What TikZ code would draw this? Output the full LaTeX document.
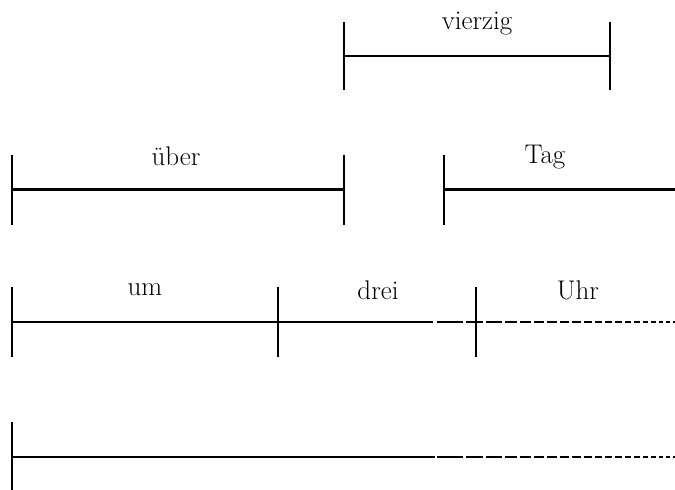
\documentclass[tikz,border=0pt]{standalone}
\begin{document}
\begin{tikzpicture}[x=1pt,y=-1pt,
  tickln/.style={line width=1.3pt},
  segthin/.style={line width=1.3pt},
  segthick/.style={line width=3pt},
  fadeln/.style={line width=1.3pt,dash pattern=on 26pt off 3pt on 17pt off 3pt on 16pt off 3pt on 12pt off 3pt on 11pt off 3pt on 10pt off 3pt on 10pt off 3pt on 9pt off 3pt on 9pt off 3pt on 8pt off 3pt on 7pt off 3pt on 7pt off 3pt on 7pt off 3pt on 6pt off 3pt on 6pt off 3pt on 5pt off 3pt on 5pt off 3pt on 4pt off 3pt on 4pt off 3pt},
  lbl/.style={anchor=base,inner sep=0pt,font=\fontsize{27}{32}\selectfont}]
\useasboundingbox (0,0) rectangle (675,490);
% row 1: vierzig
\coordinate (v1t) at (344,22); \coordinate (v1b) at (344,90);
\coordinate (v2t) at (610,22); \coordinate (v2b) at (610,90);
\coordinate (v1) at (344,56); \coordinate (v2) at (610,56);
\draw[tickln] (v1t) -- (v1b);
\draw[tickln] (v2t) -- (v2b);
\draw[segthin] (v1) -- (v2);
\node[lbl] (vierzig) at (477,29) {vierzig};
% row 2: über, Tag
\coordinate (u1t) at (12,155); \coordinate (u1b) at (12,225);
\coordinate (u2t) at (344,155); \coordinate (u2b) at (344,225);
\coordinate (u1) at (12,189); \coordinate (u2) at (344,189);
\draw[tickln] (u1t) -- (u1b);
\draw[tickln] (u2t) -- (u2b);
\draw[segthick] (u1) -- (u2);
\node[lbl] (ueber) at (176,165) {über};
\coordinate (t1t) at (444,155); \coordinate (t1b) at (444,225);
\coordinate (t1) at (444,189); \coordinate (t2) at (675,189);
\draw[tickln] (t1t) -- (t1b);
\draw[segthick] (t1) -- (t2);
\node[lbl] (tag) at (545,163) {Tag};
% row 3: um, drei, Uhr
\coordinate (r1t) at (12,287); \coordinate (r1b) at (12,357);
\coordinate (r2t) at (278,287); \coordinate (r2b) at (278,357);
\coordinate (r3t) at (476,287); \coordinate (r3b) at (476,357);
\coordinate (r1) at (12,322); \coordinate (rs) at (433,322);
\coordinate (rd) at (437,322); \coordinate (re) at (675,322);
\draw[tickln] (r1t) -- (r1b);
\draw[tickln] (r2t) -- (r2b);
\draw[tickln] (r3t) -- (r3b);
\draw[segthin] (r1) -- (rs);
\draw[fadeln] (rd) -- (re);
\node[lbl] (um) at (145,295) {um};
\node[lbl] (drei) at (378,299) {drei};
\node[lbl] (uhr) at (578,299) {Uhr};
% row 4
\coordinate (b1t) at (12,422); \coordinate (b1b) at (12,490);
\coordinate (b1) at (12,457); \coordinate (bs) at (435,457);
\coordinate (bd) at (437,457); \coordinate (be) at (675,457);
\draw[tickln] (b1t) -- (b1b);
\draw[segthin] (b1) -- (bs);
\draw[fadeln] (bd) -- (be);
\end{tikzpicture}
\end{document}
